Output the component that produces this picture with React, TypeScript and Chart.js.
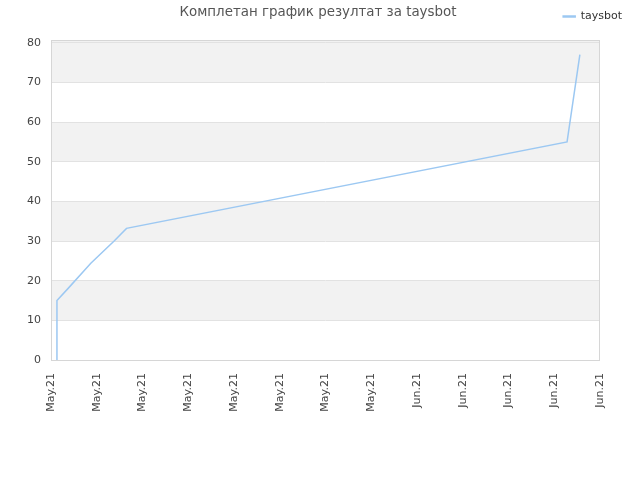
import React, { useEffect, useRef } from "react";
import { Chart, registerables } from "chart.js";

Chart.register(...registerables);

const chartTitle = "Комплетан график резултат за taysbot";
const seriesName = "taysbot";
const xTickLabels = [
  "May.21", "May.21", "May.21", "May.21", "May.21", "May.21", "May.21", "May.21",
  "Jun.21", "Jun.21", "Jun.21", "Jun.21", "Jun.21",
];
const yTickValues = [0, 10, 20, 30, 40, 50, 60, 70, 80];
const pointX = [0.13, 0.13, 0.37, 0.87, 1.38, 1.65, 11.28, 11.56];
const pointY = [0, 15, 18, 24.4, 30, 33.2, 55, 77];

const bandsAndFrame = {
  id: "bandsAndFrame",
  beforeDraw(chart: any) {
    const { ctx, chartArea, scales } = chart;
    const y = scales.y;
    ctx.save();
    ctx.fillStyle = "#f2f2f2";
    for (let i = 1; i < yTickValues.length - 1; i += 2) {
      const top = i + 2 < yTickValues.length ? y.getPixelForValue(yTickValues[i + 1]) : chartArea.top;
      const bottom = y.getPixelForValue(yTickValues[i]);
      ctx.fillRect(chartArea.left, top, chartArea.right - chartArea.left, bottom - top);
    }
    // strip above the last tick
    ctx.fillRect(
      chartArea.left,
      chartArea.top,
      chartArea.right - chartArea.left,
      y.getPixelForValue(80) - chartArea.top
    );
    ctx.restore();
  },
  beforeDatasetsDraw(chart: any) {
    const { ctx, chartArea } = chart;
    ctx.save();
    ctx.strokeStyle = "#d6d6d6";
    ctx.lineWidth = 1;
    ctx.strokeRect(
      chartArea.left + 0.5,
      chartArea.top + 0.5,
      chartArea.right - chartArea.left - 1,
      chartArea.bottom - chartArea.top
    );
    ctx.restore();
  },
  afterDraw(chart: any) {
    const { ctx } = chart;
    ctx.save();
    ctx.fillStyle = "#555";
    ctx.font = "13.4px 'DejaVu Sans'";
    ctx.textAlign = "center";
    ctx.textBaseline = "middle";
    ctx.fillText(chartTitle, 318, 13);
    ctx.restore();
  },
};

const App: React.FC = () => {
  const chartRef = useRef<HTMLCanvasElement>(null);
  const chartInstance = useRef<Chart>();

  useEffect(() => {
    if (chartRef && chartRef.current) {
      const ctx = chartRef.current.getContext("2d");
      if (ctx) {
        chartInstance.current = new Chart(ctx, {
          type: "line",
          data: {
            datasets: [
              {
                label: seriesName,
                data: pointX.map((x, i) => ({ x, y: pointY[i] })),
                borderColor: "#9cc8f2",
                backgroundColor: "#9cc8f2",
                borderWidth: 1.5,
                pointRadius: 0,
                tension: 0,
                fill: false,
              },
            ],
          },
          options: {
            animation: false,
            responsive: false,
            layout: { padding: { top: 6, right: 13, left: 0, bottom: 0 } },
            plugins: {
              title: { display: false },
              tooltip: { enabled: false },
              legend: {
                position: "top",
                align: "end",
                labels: {
                  boxWidth: 12,
                  boxHeight: 1,
                  padding: 5,
                  color: "#333",
                  font: { family: "'DejaVu Sans'", size: 11 },
                },
              },
            },
            scales: {
              x: {
                type: "linear",
                min: 0,
                max: 12,
                grid: { display: false },
                border: { display: false },
                afterFit: (s: any) => {
                  s.height = 120;
                },
                ticks: {
                  stepSize: 1,
                  autoSkip: false,
                  maxRotation: 90,
                  minRotation: 90,
                  padding: 5,
                  color: "#444",
                  font: { family: "'DejaVu Sans'", size: 11 },
                  callback: (v: any) => xTickLabels[v] ?? "",
                },
              },
              xTop: {
                type: "linear",
                position: "top",
                display: true,
                grid: { display: false },
                border: { display: false },
                ticks: { display: false },
                afterFit: (s: any) => {
                  s.height = 8;
                },
              },
              y: {
                min: 0,
                max: 80.7,
                afterBuildTicks: (s: any) => {
                  s.ticks = yTickValues.map((value) => ({ value }));
                },
                afterFit: (s: any) => {
                  s.width = 51;
                },
                grid: { color: "#e2e2e2", drawTicks: false },
                border: { display: false },
                ticks: {
                  padding: 10,
                  color: "#444",
                  font: { family: "'DejaVu Sans'", size: 11 },
                },
              },
              yRight: {
                type: "linear",
                position: "right",
                display: true,
                grid: { display: false },
                border: { display: false },
                ticks: { display: false },
                afterFit: (s: any) => {
                  s.width = 27;
                },
              },
            },
          },
          plugins: [bandsAndFrame],
        });
      }
    }

    return () => {
      if (chartInstance.current) {
        chartInstance.current.destroy();
      }
    };
  }, []);

  return (
    <div style={{ position: "absolute", left: 0, top: 0, width: 640, height: 480 }}>
      <canvas ref={chartRef} width={640} height={480} />
    </div>
  );
};

export default App;
